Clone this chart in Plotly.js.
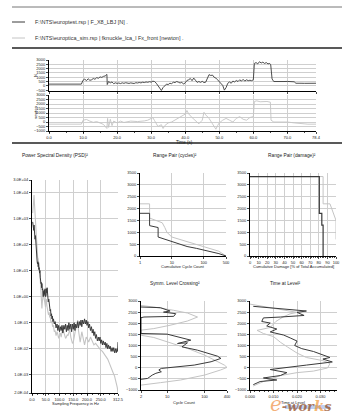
<!DOCTYPE html>
<html><head><meta charset="utf-8">
<script src="https://cdn.plot.ly/plotly-3.0.1.min.js"></script>
<style>html,body{margin:0;padding:0;background:#fff;}#c{width:354px;height:418px;}</style>
</head><body><div id="c"></div>
<script>
// ---------- DATA ----------
const legendTest = "F:\\NTS\\europtest.rsp | F_X8_LBJ [N] .";
const legendSim = "F:\\NTS\\europtica_sim.rsp | fknuckle_lca_l Fx_front [newton] .";

// Time history (s, N)
const tTest = [0,2,4,6,8,9.5,10,10.5,11,11.5,12,12.5,13,13.5,14,14.5,15,15.5,16,16.5,17,17.1,17.5,18,18.5,19,19.5,20,20.5,21,21.5,22,22.5,23,23.5,24,24.5,25,25.5,26,26.5,27,27.5,28,28.5,29,29.5,30,30.5,31,31.5,32,32.5,33,33.5,34,34.5,35,35.5,36,36.5,37,37.5,38,38.5,39,39.5,40,40.5,41,41.5,42,42.5,43,43.5,44,44.5,45,45.5,46,46.5,47,47.5,48,48.5,49,49.5,50,50.5,51,51.5,52,52.5,53,53.5,54,54.5,55,55.5,56,56.5,57,57.5,58,58.5,59,59.5,60,60.3,60.8,61.3,61.8,62.3,62.8,63.3,63.8,64.3,64.8,65.1,65.5,66,67,68,69,70,71,72,72.5,73,74,75,76,77,78.4];
const fTest = [200,210,190,200,205,200,650,780,600,820,640,700,850,760,950,880,1040,980,1100,1150,1330,150,500,350,450,250,350,280,330,260,350,290,360,300,280,340,320,270,360,330,390,340,420,380,450,410,480,430,540,500,300,0,-300,-540,-200,50,200,150,300,250,420,380,500,420,330,420,200,350,620,700,850,600,900,650,400,500,400,520,380,420,900,1300,1200,1250,1000,900,700,500,300,50,-500,-200,300,450,300,550,450,620,500,700,550,750,550,700,600,650,600,700,2600,2700,2550,2800,2650,2750,2600,2700,2550,2600,2450,800,500,480,520,500,510,490,470,300,280,300,290,300,300,300];

const tSim = [0,3,6,9.5,10,11,12,13,14,15,16,16.5,17,17.2,17.5,18,18.5,19,20,21,22,24,26,28,29,30,30.5,31,32,33,33.5,34,35,36,37,38,39,40,40.5,41,42,43,44,45,45.5,46,47,48,48.5,49,49.5,50,51,52,53,54,55,56,57,58,59,60,60.3,61,62,63,64,65,65.2,66,68,70,72,74,76,78.4];
const fSim = [-240,-230,-250,-240,200,280,100,-40,50,-80,-270,-500,-720,400,-600,300,-400,100,-100,100,-50,100,50,120,200,400,480,150,-500,-300,-720,-400,-100,0,200,400,600,880,1280,900,500,100,-200,200,1080,800,400,-200,-520,-800,-400,-100,200,400,200,0,400,600,300,200,500,600,2280,2350,2250,2300,2280,2200,200,0,0,0,-100,-200,-240,-240];

// Power spectral density (Hz, N^2/Hz)
const psdFreqTest = [2.5,4,5,6.3,7.5,8.8,10,11,12.5,13.8,15,16,17.5,18.8,20,21,22.5,24,25,26,27.5,29,30,31,32.5,34,35,36,37.5,39,40,41,42.5,44,45,46,47.5,49,50,51,52.5,54,55,56,57.5,59,61,62.5,64,66,67.5,69,71,72.5,74,76,78,81,84,87.5,91,94,97,100,103,106,109,112,116,119,122,125,128,131,134,137.5,141,144,147,150,153,156,159,162.5,166,169,172,175,178,181,184,187.5,191,194,197,200,203,206,209,212.5,216,219,222,225,228,231,234,237.5,241,244,247,250,253,256,259,262.5,266,269,272,275,278,281,284,287.5,291,294,297,300,303,306,309,311,312.5];
const psdTest = [7.4e2,5e2,7e2,3.5e2,5.6e2,2.5e2,3.2e2,1.6e2,2.2e2,1e2,1.1e2,6.3e1,4e1,2.2e1,1.8e1,2.2e1,1.4e1,2e1,1.1e1,1.3e1,8,10,5.6,5,3.2,3.5,2.2,3.2,1.8,2,1.26,1,1.6,1.1,1.8,1.26,2,1,1.6,1.1,2,1.4,2.2,1,1.26,0.63,0.8,0.4,0.5,0.28,0.32,0.18,0.22,0.14,0.18,0.11,0.14,8.9e-2,0.11,6.3e-2,8.9e-2,5e-2,7.9e-2,4.5e-2,7e-2,5e-2,7.9e-2,4e-2,7.9e-2,5.6e-2,8.9e-2,4.5e-2,7.9e-2,5e-2,1e-1,5.6e-2,8.9e-2,4.5e-2,8.9e-2,5.6e-2,1e-1,5e-2,8.9e-2,6.3e-2,1.1e-1,6.3e-2,1.1e-1,7.9e-2,1.26e-1,7e-2,1.26e-1,8.9e-2,1.4e-1,8.9e-2,1.26e-1,7.9e-2,1.1e-1,6.3e-2,8.9e-2,5e-2,7e-2,4e-2,5.6e-2,3.2e-2,4.5e-2,2.5e-2,3.5e-2,2e-2,2.8e-2,2e-2,2.8e-2,1.6e-2,2.2e-2,1.4e-2,2e-2,1.4e-2,1.8e-2,1.1e-2,1.6e-2,1e-2,1.4e-2,1e-2,1.26e-2,7.9e-3,1.1e-2,7.9e-3,1.1e-2,7e-3,1e-2,7e-3,1e-2,7.9e-3,1.8e-2];

const psdFreqSim = [2.5,4,5,6.3,7.5,8.8,10,11,12.5,14,15,16.5,18,19,20.5,22.5,24,26,27.5,29,30,31.5,33,34,35,36,37.5,39,40,41,42.5,44,45,47.5,49,50,52.5,54,56,57.5,60,62.5,64,66,69,72.5,75,78,81,84,87.5,91,94,97,100,103,106,109,112,115,119,122,125,128,131,134,137.5,141,144,147,150,153,156,159,162.5,166,169,172,175,178,181,184,187.5,191,194,197,200,206,212.5,219,225,231,237.5,244,250,256,262.5,269,275,281,287.5,294,300,306,310,312.5];
const psdSim = [1.6e3,4e3,5.6e3,3.2e3,7.9e3,4e3,2.2e3,1e3,5e2,2.5e2,1.8e2,1e2,5.6e1,6.3e1,3.2e1,2.8e1,2e1,1.6e1,10,7,4.5,2.5,1.6,1,0.45,0.35,0.63,0.8,1.6,1.8,1.1,0.8,1.1,0.45,0.4,0.7,0.8,0.45,0.28,0.35,0.2,0.25,0.16,0.18,0.1,0.11,7e-2,7.9e-2,4.5e-2,5e-2,3.2e-2,4.5e-2,3.5e-2,2.5e-2,3.2e-2,4e-2,2.8e-2,5e-2,7e-2,4.5e-2,3.5e-2,2.5e-2,2.8e-2,3.5e-2,3.2e-2,4.5e-2,5.6e-2,2.8e-2,2.2e-2,1.6e-2,1.8e-2,3.2e-2,4e-2,5.6e-2,7.9e-2,1.26e-1,5e-2,2.8e-2,1.8e-2,2.8e-2,4.5e-2,3.2e-2,2.2e-2,1.4e-2,2e-2,2.8e-2,2.5e-2,1.8e-2,2.8e-2,1.8e-2,1.4e-2,1.6e-2,1.26e-2,1.1e-2,8.9e-3,7.9e-3,6.3e-3,5e-3,4e-3,2.8e-3,2e-3,1.26e-3,8.9e-4,5e-4,3.2e-4,2e-4];

// Range pair (cycles): cumulative cycle count vs range
const rpCyclesTestX = [1,2,2,3.7,3.7,6,10,20,30,60,100,200,300,500];
const rpCyclesTestY = [1800,1800,1280,1200,800,700,600,480,400,320,250,170,100,0];
const rpCyclesSimX = [1,2,2,4,5,6,7,10,20,30,60,100,200,300,500];
const rpCyclesSimY = [2200,2200,1600,1450,1400,1200,1000,800,680,600,480,400,280,200,0];

// Range pair (damage): cumulative damage % vs range
const rpDamageTestX = [0,80.6,80.6,83.5,83.5,85,85];
const rpDamageTestY = [3350,3350,1800,1800,1300,1300,0];
const rpDamageSimX = [0,85,85,93,100,100];
const rpDamageSimY = [3350,3350,2200,2200,1500,700];

// Symmetric level crossing: cycle count vs level
const lcTestX = [2,6.6,12,8,17,15,2.4,2,2,10,43,19,35,25,65,120,223,275,150,53,15,7,6,7,5,4,3,2];
const lcTestY = [2730,2700,2550,2500,2430,2310,2280,2250,1540,1510,1240,1090,1120,940,790,640,520,420,270,120,15,-30,-100,-180,-250,-330,-480,-520];
const lcSimX = [2,4.4,15,35,65,35,12,4.4,2,2,4.4,10,35,100,180,340,400,270,100,23,6.6,3,2];
const lcSimY = [2800,2730,2580,2460,2280,2100,1910,1760,1690,1460,1360,1160,870,570,340,120,15,-100,-330,-550,-670,-730,-780];

// Time at level: time (s) vs level
const talTestX = [0.0014,0.024,0.020,0.023,0.013,0.0057,0.005,0.0086,0.0071,0.0114,0.0086,0.0143,0.0171,0.020,0.019,0.022,0.027,0.031,0.034,0.031,0.035,0.024,0.0157,0.0086,0.0157,0.0129,0.0057,0.0114,0.0043,0.0014];
const talTestY = [2760,2550,2490,2350,2280,2240,2080,2010,1880,1740,1610,1470,1340,1200,1000,860,730,590,460,390,260,120,30,-80,-220,-350,-460,-550,-620,-760];
const talSimX = [0,0.0129,0.020,0.017,0.014,0.011,0.0086,0.003,0.0057,0.010,0.013,0.016,0.020,0.024,0.031,0.034,0.033,0.027,0.020,0.013,0.0057,0.0014];
const talSimY = [2860,2620,2490,2420,2280,2080,1810,1680,1540,1400,1140,930,660,460,320,190,-10,-150,-220,-350,-620,-820];

const timeTicks = [0,10,20,30,40,50,60,70,78.4];
const timeTickText = ["0.0","10.0","20.0","30.0","40.0","50.0","60.0","70.0","78.4"];
const psdTicks = [0,50,100,150,200,250,312.5];
const psdTickText = ["0.0","50.0","100.0","150.0","200.0","250.0","312.5"];
const psdYTicks = [3e4,1e4,1e3,1e2,1e1,1,1e-1,1e-2,1e-3,2e-4];
const psdYTickText = ["3.0E+04","1.0E+04","1.0E+03","1.0E+02","1.0E+01","1.0E+00","1.0E-01","1.0E-02","1.0E-03","2.0E-04"];

// ---------- STYLE ----------
const W = 354, H = 418;
const DARK = "#3a3a3a", LIGHT = "#c4c4c4";
const FONT = "Liberation Sans, Arial, sans-serif";
const px = v => v / W, py = v => 1 - v / H;

function ax(opts) {
  return Object.assign({
    showline: true, linecolor: "#000", linewidth: 1,
    showgrid: true, gridcolor: "#cfcfcf", gridwidth: 1,
    zeroline: false, ticks: "outside", ticklen: 2, tickwidth: 0.7, tickcolor: "#000",
    tickfont: {size: 4, family: FONT, color: "#222"},
    mirror: false, fixedrange: true, automargin: false
  }, opts);
}
function line(x, y, xa, ya, color, w) {
  return {x, y, xaxis: xa, yaxis: ya, type: "scatter", mode: "lines",
          line: {color, width: w || 1}, hoverinfo: "skip", showlegend: false};
}

const traces = [
  line(tTest, fTest, "x", "y", DARK, 0.9),
  line(tSim, fSim, "x2", "y2", LIGHT, 0.9),
  line(psdFreqSim, psdSim, "x3", "y3", LIGHT, 1.1),
  line(psdFreqTest, psdTest, "x3", "y3", DARK, 1),
  line(rpCyclesSimX, rpCyclesSimY, "x4", "y4", LIGHT, 1),
  line(rpCyclesTestX, rpCyclesTestY, "x4", "y4", DARK, 1),
  line(rpDamageSimX, rpDamageSimY, "x5", "y5", LIGHT, 1),
  line(rpDamageTestX, rpDamageTestY, "x5", "y5", DARK, 1.2),
  line(lcSimX, lcSimY, "x6", "y6", LIGHT, 1),
  line(lcTestX, lcTestY, "x6", "y6", DARK, 1),
  line(talSimX, talSimY, "x7", "y7", LIGHT, 1),
  line(talTestX, talTestY, "x7", "y7", DARK, 1)
];

const minorX = {ticks: "outside", ticklen: 1.2, tickcolor: "#000", showgrid: false};
function note(text, x, y, size, extra) {
  return Object.assign({text, xref: "paper", yref: "paper", x: px(x), y: py(y), xanchor: "center", yanchor: "middle",
                        showarrow: false, font: {size: size}}, extra || {});
}

const layout = {
  width: W, height: H, margin: {l: 0, r: 0, t: 0, b: 0},
  paper_bgcolor: "#fff", plot_bgcolor: "#fff", showlegend: false,
  font: {family: FONT, size: 4, color: "#222"},
  xaxis: ax({domain: [px(49), px(316)], range: [0, 78.4], tickvals: timeTicks, showticklabels: false, anchor: "y"}),
  yaxis: ax({domain: [py(91), py(60)], range: [-600, 3000], dtick: 500, anchor: "x"}),
  xaxis2: ax({domain: [px(49), px(316)], range: [0, 78.4], tickvals: timeTicks, ticktext: timeTickText, anchor: "y2", minor: minorX}),
  yaxis2: ax({domain: [py(131), py(95)], range: [-1000, 3000], dtick: 500, anchor: "x2"}),
  xaxis3: ax({domain: [px(32), px(118)], range: [0, 312.5], tickvals: psdTicks, ticktext: psdTickText, anchor: "y3", minor: minorX}),
  yaxis3: ax({domain: [py(393), py(180)], type: "log", range: [Math.log10(2e-4), Math.log10(3e4)],
             tickvals: psdYTicks, ticktext: psdYTickText, anchor: "x3"}),
  xaxis4: ax({domain: [px(140), px(226)], type: "log", range: [0, Math.log10(500)], tickvals: [1,10,100,500], ticktext: ["1","10","100","500"], anchor: "y4"}),
  yaxis4: ax({domain: [py(256), py(173)], range: [0, 3500], dtick: 500, anchor: "x4"}),
  xaxis5: ax({domain: [px(250), px(336)], range: [0, 100], dtick: 10, anchor: "y5", minor: minorX}),
  yaxis5: ax({domain: [py(256), py(173)], range: [0, 3500], dtick: 500, anchor: "x5"}),
  xaxis6: ax({domain: [px(141), px(227)], type: "log", range: [Math.log10(2), Math.log10(400)], tickvals: [2,10,100,400], ticktext: ["2","10","100","400"], anchor: "y6"}),
  yaxis6: ax({domain: [py(390), py(301)], range: [-1000, 3000], dtick: 500, anchor: "x6"}),
  xaxis7: ax({domain: [px(250), px(337)], range: [0, 0.037], dtick: 0.01, tickformat: ".3f", anchor: "y7", minor: minorX}),
  yaxis7: ax({domain: [py(390), py(301)], range: [-1000, 3000], dtick: 500, anchor: "x7"}),
  shapes: [
    {type: "line", xref: "paper", yref: "paper", x0: px(12), x1: px(342), y0: py(7), y1: py(7), line: {color: "#777", width: 1}},
    {type: "line", xref: "paper", yref: "paper", x0: px(12), x1: px(25), y0: py(22), y1: py(22), line: {color: DARK, width: 1}},
    {type: "line", xref: "paper", yref: "paper", x0: px(12), x1: px(25), y0: py(38), y1: py(38), line: {color: LIGHT, width: 1}},
    {type: "line", xref: "paper", yref: "paper", x0: px(12), x1: px(342), y0: py(48), y1: py(48), line: {color: "#222", width: 1.6}},
    {type: "line", xref: "paper", yref: "paper", x0: px(12), x1: px(342), y0: py(143), y1: py(143), line: {color: "#222", width: 1.6}},
    {type: "rect", xref: "paper", yref: "paper", x0: px(285), x1: px(330), y0: py(409), y1: py(405), line: {width: 0}, fillcolor: "rgba(110,150,220,0.45)"}
  ],
  annotations: [
    note(legendTest, 33, 22, 5.5, {xanchor: "left", font: {size: 5.5, color: "#333"}}),
    note(legendSim, 33, 38, 5.5, {xanchor: "left", font: {size: 5.5, color: "#333"}}),
    note("N", 35, 76, 4, {textangle: -90}),
    note("newton", 35, 113, 4, {textangle: -90}),
    note("Time (s)", 184, 142, 4.5),
    note("Power Spectral Density (PSD)²", 55, 155, 4.8),
    note("Range Pair (cycles)²", 175, 155, 4.8),
    note("Range Pair (damage)²", 292, 155, 4.8),
    note("Symm. Level Crossing²", 175, 283, 4.8),
    note("Time at Level²", 285, 283, 4.8),
    note("Sampling Frequency in Hz", 75, 403, 4),
    note("Cumulative Cycle Count", 183, 266, 4),
    note("Cumulative Damage [% of Total Accumulated]", 293, 266, 4),
    note("Cycle Count", 184, 402, 4),
    note("Time at Level", 293, 402, 4),
    {text: "<i><span style='font-size:20px;color:rgba(236,125,35,0.8)'>e</span><b>-wor<span style='font-size:15px;color:rgba(240,140,30,0.85)'>k</span>s</b></i>",
     xref: "paper", yref: "paper", x: px(268), y: py(404), xanchor: "left", yanchor: "middle", showarrow: false,
     font: {size: 13, family: "DejaVu Serif, serif", color: "rgba(150,80,40,0.75)"}}
  ]
};

Plotly.newPlot("c", traces, layout, {staticPlot: true, displayModeBar: false});
</script>
</body></html>
